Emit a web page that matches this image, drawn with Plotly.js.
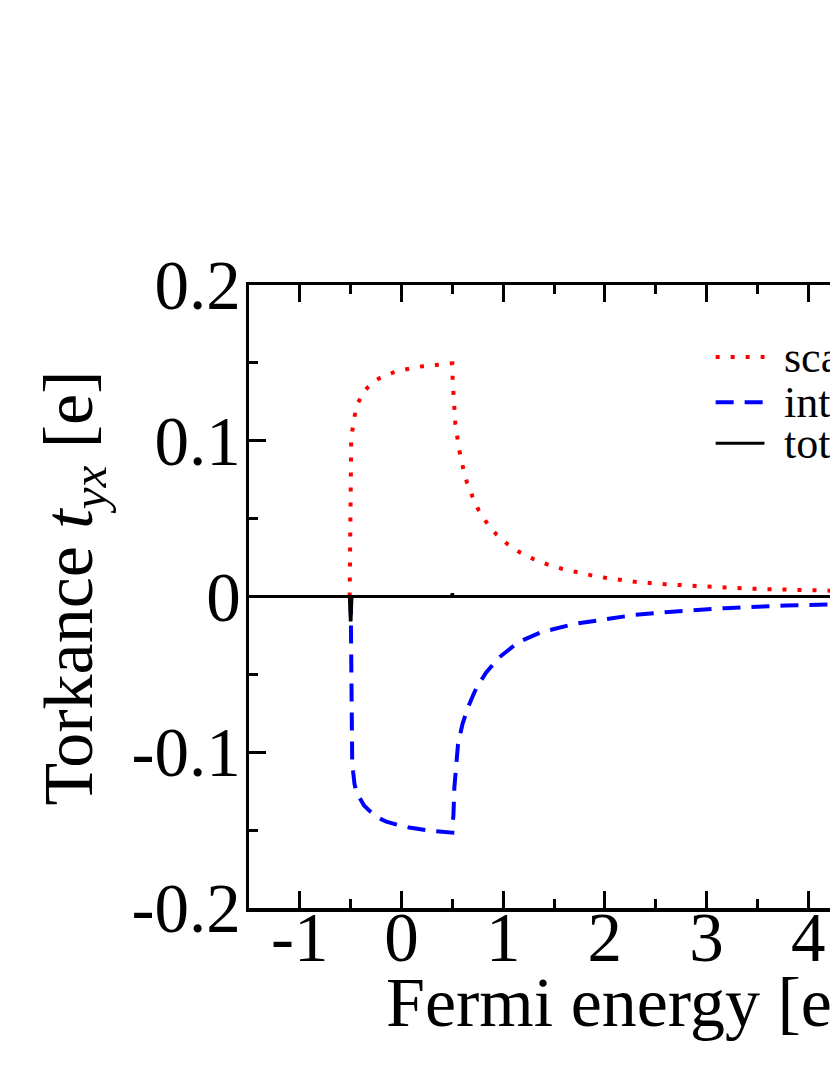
<!DOCTYPE html>
<html>
<head>
<meta charset="utf-8">
<script src="https://cdn.plot.ly/plotly-3.0.1.min.js"></script>
<style>
html, body { margin: 0; padding: 0; background: #fff; overflow: hidden; width: 830px; height: 1075px; }
#chart { width: 1120px; height: 1075px; }
</style>
</head>
<body>
<div id="chart"></div>
<script>
// ---- data ----
const scatX = [-0.51, -0.507, -0.505, -0.502, -0.495, -0.485, -0.47, -0.455, -0.43, -0.41, -0.37, -0.325, -0.27, -0.21, -0.14, -0.074, 0.0, 0.071, 0.14, 0.215, 0.29, 0.359, 0.43, 0.493, 0.5, 0.503, 0.511, 0.52, 0.53, 0.552, 0.574, 0.607, 0.644, 0.70, 0.759, 0.841, 0.936, 1.047, 1.166, 1.30, 1.435, 1.577, 1.718, 1.862, 2.006, 2.154, 2.30, 2.59, 2.887, 3.18, 3.48, 3.775, 4.07, 4.5, 5.0, 5.5, 6.0, 6.3];
const scatY = [0, 0.02, 0.05, 0.08, 0.099, 0.106, 0.113, 0.118, 0.124, 0.127, 0.1315, 0.1348, 0.138, 0.1404, 0.1425, 0.144, 0.1452, 0.1464, 0.1472, 0.1479, 0.1485, 0.149, 0.1494, 0.1497, 0.1497, 0.139, 0.1297, 0.12, 0.1106, 0.101, 0.0918, 0.0823, 0.0731, 0.0639, 0.0553, 0.0471, 0.0397, 0.0334, 0.0283, 0.024, 0.0206, 0.0178, 0.0156, 0.0137, 0.012, 0.0105, 0.0094, 0.0079, 0.0066, 0.0058, 0.0049, 0.0043, 0.0039, 0.0033, 0.0028, 0.0024, 0.0021, 0.002];

const intrX = [-0.5, -0.498, -0.495, -0.49, -0.485, -0.475, -0.462, -0.44, -0.414, -0.37, -0.315, -0.27, -0.221, -0.15, -0.074, 0.0, 0.075, 0.15, 0.222, 0.3, 0.4, 0.5, 0.505, 0.511, 0.52, 0.537, 0.556, 0.60, 0.648, 0.70, 0.74, 0.833, 0.963, 1.147, 1.37, 1.70, 2.0, 2.295, 2.59, 3.18, 3.775, 4.15, 4.5, 5.0, 5.5, 6.0, 6.3];
const intrY = [0, -0.03, -0.06, -0.09, -0.105, -0.113, -0.1205, -0.126, -0.129, -0.134, -0.1376, -0.140, -0.1423, -0.1445, -0.1462, -0.1473, -0.1483, -0.149, -0.150, -0.1505, -0.151, -0.1516, -0.145, -0.14, -0.1226, -0.1055, -0.0947, -0.0819, -0.0722, -0.064, -0.0583, -0.0487, -0.039, -0.0294, -0.023, -0.0176, -0.0144, -0.0118, -0.0101, -0.0075, -0.0058, -0.0051, -0.0045, -0.0038, -0.0033, -0.0029, -0.0027];

const totX = [-1.5, -0.512, -0.503, -0.497, -0.488, 0.49, 0.5, 0.51, 6.3];
const totY = [0, 0, -0.015, -0.015, 0, 0, 0.002, 0, 0];

const seriesNames = ["scattering", "intrinsic", "total"];

const xTickVals = [-1, 0, 1, 2, 3, 4, 5, 6];
const xTickText = ["-1", "0", "1", "2", "3", "4", "5", "6"];
const yTickVals = [-0.2, -0.1, 0, 0.1, 0.2];
const yTickText = ["-0.2", "-0.1", "0", "0.1", "0.2"];

const xTitle = "Fermi energy [eV]";
const yTitle = "Torkance <i>t</i><sub><i>yx</i></sub> [e]";

// legend sample positions (data coords)
const legX0 = 3.09, legX1 = 3.57, legTextX = 3.74;
const legY = [0.1537, 0.1247, 0.0984];

// ---- chart ----
const FONT = "Liberation Serif, Times New Roman, serif";
const colors = ["#ff0000", "#0000ff", "#000000"];
const dashes = ["4px,11px", "18px,11px", "solid"];
const widths = [4, 4, 3.2];

const traces = [
  { x: scatX, y: scatY, mode: "lines", name: seriesNames[0], line: { color: colors[0], width: widths[0], dash: dashes[0] } },
  { x: intrX, y: intrY, mode: "lines", name: seriesNames[1], line: { color: colors[1], width: widths[1], dash: dashes[1] } },
  { x: totX, y: totY, mode: "lines", name: seriesNames[2], line: { color: colors[2], width: widths[2], dash: dashes[2] } }
];

const shapes = [];
const annotations = [];
for (let i = 0; i < 3; i++) {
  shapes.push({ type: "line", xref: "x", yref: "y", x0: legX0, x1: legX1, y0: legY[i], y1: legY[i],
    line: { color: colors[i], width: widths[i], dash: dashes[i] } });
  annotations.push({ xref: "x", yref: "y", x: legTextX, y: legY[i], text: seriesNames[i], showarrow: false,
    xanchor: "left", yanchor: "middle", font: { family: FONT, size: 44, color: "#000" } });
}
// axis titles
annotations.push({ xref: "paper", yref: "paper", x: 0.5, y: -0.1509, text: xTitle, showarrow: false,
  xanchor: "center", yanchor: "middle", font: { family: FONT, size: 70, color: "#000" } });
annotations.push({ xref: "paper", yref: "paper", x: -0.2219, y: 0.5128, text: yTitle, showarrow: false, textangle: -90,
  xanchor: "center", yanchor: "middle", font: { family: FONT, size: 70, color: "#000" } });

const axisCommon = {
  showgrid: false, zeroline: false, showline: true, linecolor: "#000", linewidth: 3.5,
  mirror: "ticks", ticks: "inside", ticklen: 17, tickwidth: 3, tickcolor: "#000",
  tickfont: { family: FONT, size: 69, color: "#000" }, tickmode: "array", automargin: false
};

const layout = {
  width: 1120, height: 1075,
  margin: { l: 249, r: 78, t: 285, b: 167 },
  paper_bgcolor: "#fff", plot_bgcolor: "#fff",
  showlegend: false,
  xaxis: Object.assign({}, axisCommon, {
    range: [-1.5, 6.3], tickvals: xTickVals, ticktext: xTickText, ticklabelstandoff: -33,
    minor: { dtick: 0.5, ticks: "inside", ticklen: 9, tickwidth: 3, tickcolor: "#000" }
  }),
  yaxis: Object.assign({}, axisCommon, {
    range: [-0.2, 0.2], tickvals: yTickVals, ticktext: yTickText, ticklabelstandoff: -9,
    minor: { dtick: 0.05, ticks: "inside", ticklen: 9, tickwidth: 3, tickcolor: "#000" }
  }),
  shapes: shapes,
  annotations: annotations
};

Plotly.newPlot("chart", traces, layout, { staticPlot: true, displayModeBar: false });
</script>
</body>
</html>
